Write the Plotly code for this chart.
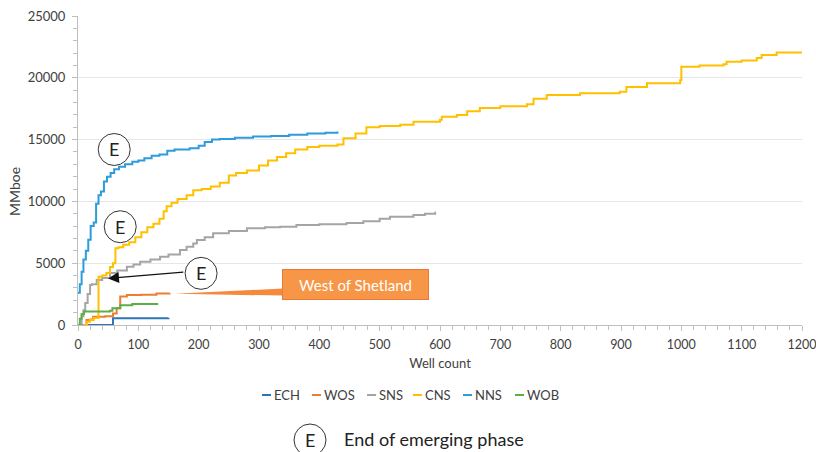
import plotly.graph_objects as go

# ---------------- data ----------------
series_names = ["ECH", "WOS", "SNS", "CNS", "NNS", "WOB"]
series_colors = ["#2E75B6", "#ED7D31", "#A5A5A5", "#FFC000", "#2D9CDB", "#5BAF45"]

ech_x = [0, 58, 150]
ech_y = [0, 550, 560]

wos_x = [9, 14, 20, 25, 45, 58, 64, 70, 81, 105, 130, 152]
wos_y = [0, 400, 450, 670, 700, 940, 1350, 2300, 2430, 2450, 2550, 2560]

sns_x = [3, 6, 9, 12, 16, 20, 23, 31, 40, 53, 65, 81, 92, 103, 120, 136, 150, 169, 180,
         191, 197, 210, 224, 250, 280, 310, 335, 362, 400, 445, 473, 500, 517, 556, 575, 592]
sns_y = [0, 700, 1200, 1780, 2500, 3240, 3300, 3640, 3800, 4200, 4400, 4720, 4900, 5120,
         5300, 5530, 5700, 6070, 6330, 6600, 6880, 7100, 7420, 7600, 7820, 7900, 7950, 8100,
         8150, 8250, 8400, 8600, 8750, 8900, 9000, 9170]

cns_x = [9, 15, 20, 26, 34, 40, 47, 53, 58, 62, 67, 75, 85, 95, 105, 115, 125, 135, 142, 147,
         155, 165, 180, 191, 205, 220, 235, 250, 262, 280, 300, 315, 330, 345, 360, 380, 400,
         430, 440, 460, 478, 500, 534, 556, 600, 603, 628, 645, 666, 700, 744, 755, 777, 832,
         898, 909, 943, 998, 1000, 1030, 1070, 1075, 1100, 1125, 1133, 1158, 1200]
cns_y = [0, 270, 400, 560, 3900, 4000, 4200, 4700, 5000, 6200, 6300, 6500, 6700, 7100, 7500,
         7900, 8200, 8600, 9200, 9600, 9900, 10200, 10500, 10900, 11000, 11200, 11500, 12100,
         12300, 12500, 12900, 13300, 13600, 13900, 14200, 14400, 14500, 14600, 15100, 15500,
         16000, 16100, 16200, 16450, 16600, 16850, 17000, 17300, 17550, 17700, 17850, 18300,
         18600, 18750, 18880, 19250, 19550, 19800, 20900, 21000, 21100, 21300, 21400, 21600,
         21850, 22050, 22050]

nns_x = [0, 3, 6, 9, 13, 17, 21, 26, 30, 34, 38, 43, 48, 54, 60, 68, 78, 90, 100, 110, 122,
         135, 148, 160, 185, 200, 210, 222, 235, 260, 290, 320, 350, 380, 410, 430]
nns_y = [2600, 3300, 4300, 5300, 6000, 6900, 8000, 8300, 9800, 10500, 10800, 11600, 12000,
         12300, 12600, 12800, 13000, 13200, 13300, 13500, 13700, 13800, 14100, 14200, 14300,
         14500, 14800, 15000, 15050, 15150, 15250, 15300, 15400, 15500, 15550, 15650]

wob_x = [0, 3, 6, 10, 53, 57, 70, 90, 133]
wob_y = [0, 500, 900, 1100, 1150, 1350, 1600, 1700, 1700]

series_x = [ech_x, wos_x, sns_x, cns_x, nns_x, wob_x]
series_y = [ech_y, wos_y, sns_y, cns_y, nns_y, wob_y]

x_ticks = list(range(0, 1201, 100))
y_ticks = list(range(0, 25001, 5000))

# "End of emerging phase" markers (well count, MMboe)
e_marks_x = [60, 70, 204]
e_marks_y = [14200, 7950, 4180]

# ---------------- figure ----------------
FONT = "Lato, 'Open Sans', sans-serif"
TXT = "#404040"

# plot area geometry (pixels)
L, R, T, B = 78, 14, 16, 127
W, H = 816, 452
PW, PH = W - L - R, H - T - B


def px2paper_x(px):
    return (px - L) / PW


def px2paper_y(py):
    return (H - B - py) / PH


fig = go.Figure()
for name, col, xs, ys in zip(series_names, series_colors, series_x, series_y):
    fig.add_trace(go.Scatter(x=xs, y=ys, name=name, mode="lines",
                             line=dict(color=col, width=2, shape="hv"),
                             showlegend=False))

shapes = []
annotations = []

# E circles
for ex, ey in zip(e_marks_x, e_marks_y):
    shapes.append(dict(type="circle", xref="x", yref="y", xsizemode="pixel",
                       ysizemode="pixel", xanchor=ex, yanchor=ey,
                       x0=-16, x1=16, y0=-16, y1=16,
                       line=dict(color="#333333", width=1), fillcolor="white"))
    annotations.append(dict(x=ex, y=ey, xref="x", yref="y", text="E", showarrow=False,
                            font=dict(family=FONT, size=18, color="#222222")))

# arrow from third E circle
annotations.append(dict(x=50, y=3770, ax=177, ay=4290, xref="x", yref="y",
                        axref="x", ayref="y", text="", showarrow=True,
                        arrowhead=2, arrowsize=1.8, arrowwidth=1.2,
                        arrowcolor="#111111"))

# West of Shetland callout
shapes.append(dict(type="path", xref="x", yref="y",
                   path="M 160,2520 L 340,2380 L 340,2950 Z",
                   fillcolor="#F58A3C", line=dict(width=0)))
annotations.append(dict(x=460, y=3290, xref="x", yref="y", text="West of Shetland",
                        showarrow=False, width=143, height=27,
                        bgcolor="#F79646", bordercolor="#E8793A", borderwidth=1,
                        font=dict(family=FONT, size=15, color="white")))

# manual legend
leg_px = [262, 312, 367, 413, 463, 515]
leg_py = 395
for name, col, lx in zip(series_names, series_colors, leg_px):
    shapes.append(dict(type="line", xref="paper", yref="paper",
                       x0=px2paper_x(lx), x1=px2paper_x(lx + 9),
                       y0=px2paper_y(leg_py), y1=px2paper_y(leg_py),
                       line=dict(color=col, width=2)))
    annotations.append(dict(x=px2paper_x(lx + 10), y=px2paper_y(leg_py), xref="paper",
                            yref="paper", xanchor="left", yanchor="middle", text=name,
                            showarrow=False, font=dict(family=FONT, size=13, color=TXT)))

# bottom E key
kx, ky, kr = 310, 440, 16
shapes.append(dict(type="circle", xref="paper", yref="paper",
                   x0=px2paper_x(kx - kr), x1=px2paper_x(kx + kr),
                   y0=px2paper_y(ky + kr), y1=px2paper_y(ky - kr),
                   line=dict(color="#333333", width=1), fillcolor="rgba(0,0,0,0)"))
annotations.append(dict(x=px2paper_x(kx), y=px2paper_y(ky), xref="paper", yref="paper",
                        xanchor="center", yanchor="middle",
                        text="E", showarrow=False,
                        font=dict(family=FONT, size=18, color="#222222")))
annotations.append(dict(x=px2paper_x(342), y=px2paper_y(439), xref="paper", yref="paper",
                        xanchor="left", yanchor="middle", text="End of emerging phase",
                        showarrow=False, font=dict(family=FONT, size=18, color="#222222")))

# y-axis title (as rotated annotation to match its placement)
annotations.append(dict(x=px2paper_x(14), y=px2paper_y(192), xref="paper", yref="paper",
                        xanchor="center", yanchor="middle", textangle=-90, text="MMboe",
                        showarrow=False, font=dict(family=FONT, size=14, color=TXT)))

fig.update_layout(
    width=W, height=H,
    margin=dict(l=L, r=R, t=T, b=B, pad=0, autoexpand=False),
    paper_bgcolor="white", plot_bgcolor="white",
    font=dict(family=FONT, size=12, color=TXT),
    shapes=shapes, annotations=annotations,
    showlegend=False,
    xaxis=dict(range=[0, 1200], tickvals=x_ticks, ticktext=[str(v) for v in x_ticks],
               automargin=False, ticklabelstandoff=3, ticklabeloverflow="allow",
               showgrid=False, zeroline=False, showline=True, linecolor="#BFBFBF",
               linewidth=1, ticks="outside", ticklen=5, tickcolor="#BFBFBF",
               minor=dict(dtick=20, ticks="outside", ticklen=4, tickcolor="#BFBFBF"),
               tickfont=dict(family=FONT, size=12.5, color=TXT),
               title=dict(text="Well count", font=dict(family=FONT, size=13, color=TXT),
                          standoff=7)),
    yaxis=dict(range=[0, 25000], tickvals=y_ticks, ticktext=[str(v) for v in y_ticks],
               automargin=False, ticklabelstandoff=4, ticklabeloverflow="allow",
               showgrid=True, gridcolor="#E6E6E6", gridwidth=1, zeroline=False,
               showline=True, linecolor="#BFBFBF", linewidth=1,
               ticks="outside", ticklen=5, tickcolor="#BFBFBF",
               minor=dict(dtick=1000, ticks="outside", ticklen=4, tickcolor="#BFBFBF",
                          showgrid=False),
               tickfont=dict(family=FONT, size=13, color=TXT)),
)

fig.write_html("out.html", config={"displayModeBar": False},
               post_script="document.body.style.margin='0';document.body.style.overflow='hidden';")
